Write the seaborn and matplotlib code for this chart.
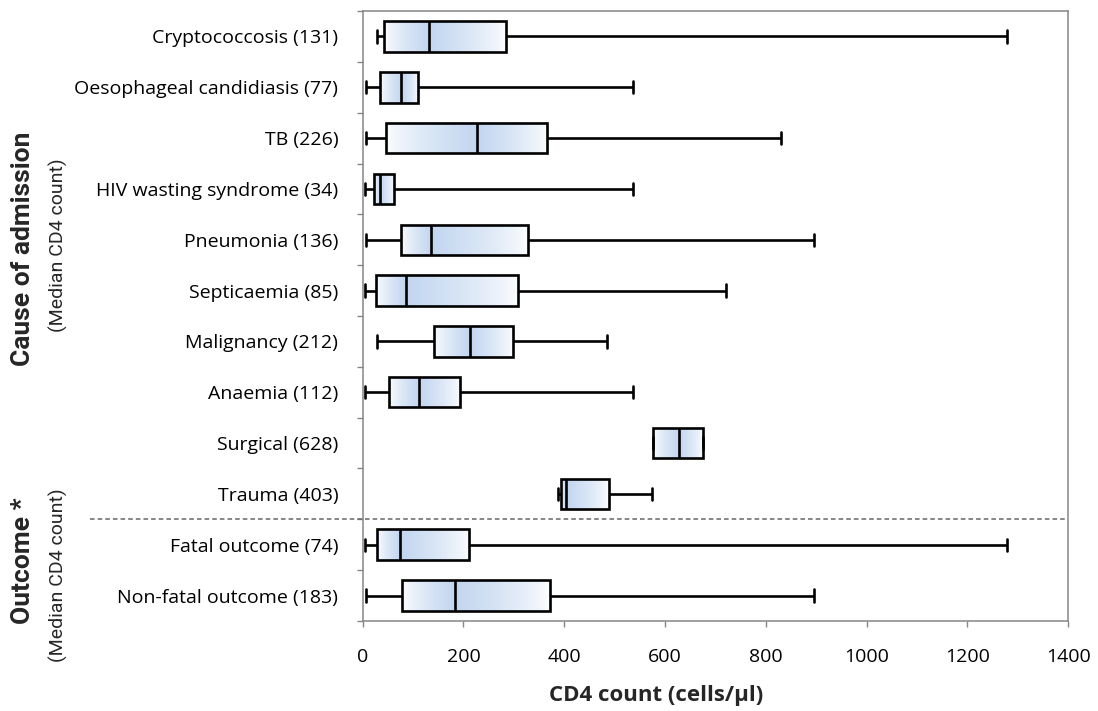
import matplotlib
matplotlib.use('Agg')
import matplotlib.pyplot as plt
import matplotlib.transforms as mtransforms
from matplotlib.colors import to_rgb
import seaborn as sns
import numpy as np
import pandas as pd

# five-number summaries
causes = ['Cryptococcosis (131)', 'Oesophageal candidiasis (77)', 'TB (226)',
          'HIV wasting syndrome (34)', 'Pneumonia (136)', 'Septicaemia (85)',
          'Malignancy (212)', 'Anaemia (112)', 'Surgical (628)', 'Trauma (403)',
          'Fatal outcome (74)', 'Non-fatal outcome (183)']
mins = [28, 6, 6, 4, 6, 4, 28, 4, 577, 387, 4, 6]
q1s = [42, 34, 46, 22, 76, 26, 142, 53, 577, 394, 28, 78]
medians = [131, 77, 226, 34, 136, 85, 212, 112, 628, 403, 74, 183]
q3s = [284, 110, 366, 63, 328, 309, 298, 194, 675, 489, 211, 371]
maxs = [1278, 537, 830, 537, 895, 721, 484, 537, 675, 575, 1278, 895]

rows = []
for i, c in enumerate(causes):
    for v in (mins[i], q1s[i], medians[i], q3s[i], maxs[i]):
        rows.append({'cause': c, 'cd4': v})
df = pd.DataFrame(rows)

sns.set_theme(style='white')
plt.rcParams['font.family'] = ['Open Sans', 'DejaVu Sans']

fig = plt.figure(figsize=(10.98, 7.11), dpi=100)
ax = fig.add_axes([0.3303, 0.1266, 0.6426, 0.8579])

sns.boxplot(data=df, x='cd4', y='cause', order=causes, orient='h',
            whis=(0, 100), width=0.6, color='white', linecolor='black',
            linewidth=1.9, showfliers=False, capwidths=0.24, ax=ax)

# gradient fill: white -> light blue at the median -> white
blue = np.array(to_rgb('#c2d6f0'))
white = np.ones(3)
boxes = [p for p in ax.patches]
for i, patch in enumerate(boxes):
    ext = patch.get_path().get_extents()
    x0, x1, y0, y1 = ext.x0, ext.x1, ext.y0, ext.y1
    xs = np.linspace(x0, x1, 300)
    med = medians[i]
    t = np.where(xs <= med,
                 (xs - x0) / max(med - x0, 1e-6),
                 (x1 - xs) / max(x1 - med, 1e-6))
    t = np.clip(t, 0, 1) ** 0.7
    img = white[None, :] * (1 - t[:, None]) + blue[None, :] * t[:, None]
    im = ax.imshow(img[None, :, :], extent=[x0, x1, y1, y0], aspect='auto',
                   zorder=1.5, interpolation='bilinear')
    im.set_clip_path(patch)
    patch.set_facecolor('none')
    patch.set_zorder(2)

ax.set_xlim(0, 1400)
ax.set_ylim(len(causes) - 0.5, -0.5)
ax.set_xticks(range(0, 1401, 200))
ax.set_ylabel('')
ax.set_xlabel('')

for s in ax.spines.values():
    s.set_color('#868686')
    s.set_linewidth(1.1)

ax.set_yticks(np.arange(-0.5, len(causes), 1), minor=True)
ax.tick_params(axis='y', which='major', length=0, pad=17.5, labelsize=14,
               labelcolor='black')
ax.tick_params(axis='y', which='minor', left=True, length=4.5, width=1,
               color='#868686')
ax.tick_params(axis='x', which='major', bottom=True, length=4.5, width=1,
               color='#868686', pad=15, labelsize=14, labelcolor='black')

# dashed separator between causes and outcomes
trans = mtransforms.blended_transform_factory(ax.transAxes, ax.transData)
ax.plot([-0.387, 1], [9.5, 9.5], transform=trans, clip_on=False,
        color='#666666', lw=1.1, ls=(0, (3, 2)))

fig.text(0.5975, 0.022, 'CD4 count (cells/µl)', ha='center', va='center',
         fontsize=16, fontweight='bold')

narrow = ['Roboto', 'DejaVu Sans']
fig.text(0.021, 0.6498, 'Cause of admission', rotation=90, ha='center',
         va='center', fontsize=19, fontweight='bold', family=narrow)
fig.text(0.0528, 0.6554, '(Median CD4 count)', rotation=90, ha='center',
         va='center', fontsize=14, family=narrow)
fig.text(0.021, 0.211, 'Outcome *', rotation=90, ha='center',
         va='center', fontsize=19, fontweight='bold', family=narrow)
fig.text(0.0528, 0.1913, '(Median CD4 count)', rotation=90, ha='center',
         va='center', fontsize=14, family=narrow)

fig.savefig('out.png', dpi=100)
